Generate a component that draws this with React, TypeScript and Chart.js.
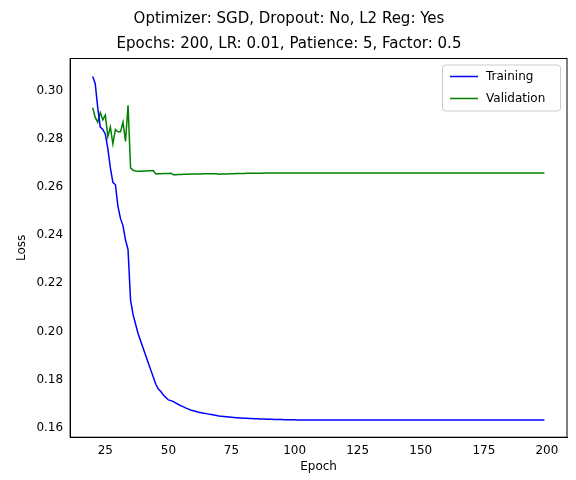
import { useEffect, useRef } from "react"
import { Chart, registerables } from "chart.js"

Chart.register(...registerables)

const startEpoch = 20

const trainingLoss = [
  0.306, 0.303, 0.293, 0.285, 0.284, 0.282, 0.276, 0.268, 0.262, 0.261,
  0.252, 0.247, 0.244, 0.238, 0.234, 0.213, 0.207, 0.203, 0.199, 0.196,
  0.193, 0.190, 0.187, 0.184, 0.181, 0.178, 0.176, 0.175, 0.1735, 0.1725,
  0.1715, 0.1712, 0.1708, 0.1702, 0.1696, 0.1690, 0.1686, 0.1681, 0.1677, 0.1672,
  0.1670, 0.1667, 0.1664, 0.1662, 0.1660, 0.1658, 0.1656, 0.1654, 0.1652, 0.1650,
  0.1648, 0.1647, 0.1646, 0.1645, 0.1644, 0.1643, 0.1642, 0.1641, 0.1640, 0.1640,
  0.1639, 0.1639, 0.1638, 0.1638, 0.1637, 0.1637, 0.1636, 0.1636, 0.1636, 0.1635,
  0.1635, 0.1635, 0.1634, 0.1634, 0.1634, 0.1634, 0.1633, 0.1633, 0.1633, 0.1633,
  0.1633, 0.1632, 0.1632, 0.1632, 0.1632, 0.1632, 0.1632, 0.1632, 0.1632, 0.1632,
  0.1632, 0.1632, 0.1632, 0.1632, 0.1632, 0.1632, 0.1632, 0.1632, 0.1632, 0.1632,
  0.1632, 0.1632, 0.1632, 0.1632, 0.1632, 0.1632, 0.1632, 0.1632, 0.1632, 0.1632,
  0.1632, 0.1632, 0.1632, 0.1632, 0.1632, 0.1632, 0.1632, 0.1632, 0.1632, 0.1632,
  0.1632, 0.1632, 0.1632, 0.1632, 0.1632, 0.1632, 0.1632, 0.1632, 0.1632, 0.1632,
  0.1632, 0.1632, 0.1632, 0.1632, 0.1632, 0.1632, 0.1632, 0.1632, 0.1632, 0.1632,
  0.1632, 0.1632, 0.1632, 0.1632, 0.1632, 0.1632, 0.1632, 0.1632, 0.1632, 0.1632,
  0.1632, 0.1632, 0.1632, 0.1632, 0.1632, 0.1632, 0.1632, 0.1632, 0.1632, 0.1632,
  0.1632, 0.1632, 0.1632, 0.1632, 0.1632, 0.1632, 0.1632, 0.1632, 0.1632, 0.1632,
  0.1632, 0.1632, 0.1632, 0.1632, 0.1632, 0.1632, 0.1632, 0.1632, 0.1632, 0.1632,
]

const validationLoss = [
  0.293, 0.289, 0.287, 0.291, 0.288, 0.290, 0.281, 0.285, 0.278, 0.284,
  0.283, 0.283, 0.287, 0.279, 0.294, 0.268, 0.267, 0.2667, 0.2666, 0.2666,
  0.2667, 0.2667, 0.2668, 0.2668, 0.2669, 0.2655, 0.2656, 0.2656, 0.2657, 0.2657,
  0.2657, 0.2658, 0.2652, 0.2652, 0.2653, 0.2653, 0.2654, 0.2654, 0.2654, 0.2655,
  0.2655, 0.2655, 0.2655, 0.2655, 0.2656, 0.2656, 0.2656, 0.2656, 0.2656, 0.2656,
  0.2654, 0.2655, 0.2655, 0.2655, 0.2656, 0.2656, 0.2656, 0.2657, 0.2657, 0.2657,
  0.2657, 0.2658, 0.2658, 0.2658, 0.2658, 0.2658, 0.2658, 0.2658, 0.2659, 0.2659,
  0.2659, 0.2659, 0.2659, 0.2659, 0.2659, 0.2659, 0.2659, 0.2659, 0.2659, 0.2659,
  0.2659, 0.2659, 0.2659, 0.2659, 0.2659, 0.2659, 0.2659, 0.2659, 0.2659, 0.2659,
  0.2659, 0.2659, 0.2659, 0.2659, 0.2659, 0.2659, 0.2659, 0.2659, 0.2659, 0.2659,
  0.2659, 0.2659, 0.2659, 0.2659, 0.2659, 0.2659, 0.2659, 0.2659, 0.2659, 0.2659,
  0.2659, 0.2659, 0.2659, 0.2659, 0.2659, 0.2659, 0.2659, 0.2659, 0.2659, 0.2659,
  0.2659, 0.2659, 0.2659, 0.2659, 0.2659, 0.2659, 0.2659, 0.2659, 0.2659, 0.2659,
  0.2659, 0.2659, 0.2659, 0.2659, 0.2659, 0.2659, 0.2659, 0.2659, 0.2659, 0.2659,
  0.2659, 0.2659, 0.2659, 0.2659, 0.2659, 0.2659, 0.2659, 0.2659, 0.2659, 0.2659,
  0.2659, 0.2659, 0.2659, 0.2659, 0.2659, 0.2659, 0.2659, 0.2659, 0.2659, 0.2659,
  0.2659, 0.2659, 0.2659, 0.2659, 0.2659, 0.2659, 0.2659, 0.2659, 0.2659, 0.2659,
  0.2659, 0.2659, 0.2659, 0.2659, 0.2659, 0.2659, 0.2659, 0.2659, 0.2659, 0.2659,
]

const titleLines = [
  "Optimizer: SGD, Dropout: No, L2 Reg: Yes",
  "Epochs: 200, LR: 0.01, Patience: 5, Factor: 0.5",
]

const FONT = "'DejaVu Sans', sans-serif"

// matplotlib-style legend inside the top-right corner of the plot
const insideLegend = {
  id: "insideLegend",
  afterDraw(chart: Chart) {
    const { ctx, chartArea } = chart
    const items = chart.data.datasets.map((d) => ({ label: d.label as string, color: d.borderColor as string }))
    ctx.save()
    ctx.font = `12px ${FONT}`
    const w = 118
    const h = 46
    const x = chartArea.right - w - 7
    const y = chartArea.top + 6
    ctx.fillStyle = "rgba(255,255,255,0.8)"
    ctx.strokeStyle = "#cccccc"
    ctx.lineWidth = 1
    ctx.beginPath()
    ctx.roundRect(x + 0.5, y + 0.5, w, h, 3)
    ctx.fill()
    ctx.stroke()
    items.forEach((it, i) => {
      const cy = y + 12 + i * 22
      ctx.strokeStyle = it.color
      ctx.lineWidth = 1.5
      ctx.beginPath()
      ctx.moveTo(x + 8, cy)
      ctx.lineTo(x + 36, cy)
      ctx.stroke()
      ctx.fillStyle = "#000"
      ctx.textBaseline = "middle"
      ctx.fillText(it.label, x + 44, cy)
    })
    ctx.restore()
  },
}

export default function App() {
  const chartRef = useRef<HTMLCanvasElement>(null)

  useEffect(() => {
    document.body.style.margin = "0"
    if (!chartRef.current) return
    const toPoints = (arr: number[]) => arr.map((v, i) => ({ x: startEpoch + i, y: v }))

    const chart = new Chart(chartRef.current, {
      type: "line",
      data: {
        datasets: [
          { label: "Training", data: toPoints(trainingLoss), borderColor: "#0000ff", borderWidth: 1.5, pointRadius: 0 },
          { label: "Validation", data: toPoints(validationLoss), borderColor: "#008000", borderWidth: 1.5, pointRadius: 0 },
        ],
      },
      options: {
        animation: false,
        responsive: false,
        layout: { padding: { left: 11, right: 9, top: 0, bottom: 6 } },
        plugins: {
          legend: { display: false },
          tooltip: { enabled: false },
          title: {
            display: true,
            text: titleLines,
            color: "#000",
            font: { family: FONT, size: 15, weight: "normal", lineHeight: 1.65 },
            padding: { top: 7, bottom: 2 },
          },
        },
        scales: {
          x: {
            type: "linear",
            min: 11.05,
            max: 207.95,
            afterBuildTicks: (axis) => {
              axis.ticks = [25, 50, 75, 100, 125, 150, 175, 200].map((v) => ({ value: v }))
            },
            grid: { display: false, drawTicks: true, tickLength: 4, tickColor: "#000" },
            border: { color: "#000" },
            ticks: { color: "#000", font: { family: FONT, size: 12 }, maxRotation: 0, padding: 2 },
            title: { display: true, text: "Epoch", color: "#000", font: { family: FONT, size: 12 }, padding: { top: 0, bottom: 0 } },
          },
          y: {
            min: 0.156,
            max: 0.3135,
            afterBuildTicks: (axis) => {
              axis.ticks = [0.16, 0.18, 0.2, 0.22, 0.24, 0.26, 0.28, 0.3].map((v) => ({ value: v }))
            },
            grid: { display: false, drawTicks: true, tickLength: 4, tickColor: "#000" },
            border: { color: "#000" },
            ticks: { color: "#000", font: { family: FONT, size: 12 }, callback: (v) => Number(v).toFixed(2) },
            title: { display: true, text: "Loss", color: "#000", font: { family: FONT, size: 12 } },
          },
        },
      },
      plugins: [
        insideLegend,
        {
          id: "frame",
          afterDraw(c: Chart) {
            const { ctx, chartArea: a } = c
            ctx.save()
            ctx.strokeStyle = "#000"
            ctx.lineWidth = 1
            ctx.strokeRect(a.left, a.top, a.right - a.left, a.bottom - a.top)
            ctx.restore()
          },
        },
      ],
    })
    return () => chart.destroy()
  }, [])

  return <canvas ref={chartRef} width={576} height={480} style={{ display: "block" }} />
}
